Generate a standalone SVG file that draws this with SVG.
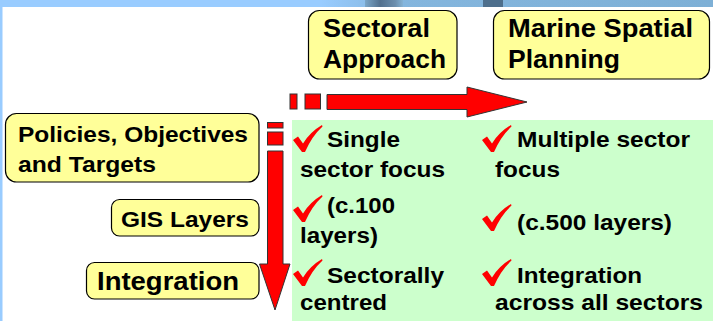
<svg xmlns="http://www.w3.org/2000/svg" xmlns:xlink="http://www.w3.org/1999/xlink" width="713" height="321" viewBox="0 0 713 321">
<defs>
<style>
.box{fill:#FFFF99;stroke:#000;stroke-width:1.2}
.t{font-family:"Liberation Sans",Arial,sans-serif;font-weight:bold;fill:#000}
.s22{font-size:22px}
.s25{font-size:25px}
.arr{fill:#FF0000;stroke:#333;stroke-width:1}
.chk{fill:#FF0000}
</style>
<linearGradient id="band" x1="0" y1="0" x2="1" y2="0">
<stop offset="0" stop-color="#99CCFF"/>
<stop offset="0.45" stop-color="#99CCFF"/>
<stop offset="0.55" stop-color="#84B6DE"/>
<stop offset="1" stop-color="#7EB0D6"/>
</linearGradient>
<linearGradient id="dark1" x1="0" y1="0" x2="1" y2="0">
<stop offset="0" stop-color="#7AA6C8"/>
<stop offset="0.4" stop-color="#52708E"/>
<stop offset="0.8" stop-color="#6C8FAE"/>
<stop offset="1" stop-color="#84B2D4"/>
</linearGradient>
<path id="check" d="M0,15 L5,11.5 L10,18.5 Q17,7 29,0 L29.5,1.5 Q19,11 12,27 L9,27 Z"/>
</defs>
<rect x="0" y="0" width="713" height="321" fill="#FFFFFF"/>
<rect x="0" y="0" width="713" height="7" fill="url(#band)"/>
<rect x="365" y="0" width="38" height="7" fill="url(#dark1)"/>
<rect x="483" y="0" width="20" height="7" fill="#4E6F8C"/>
<rect x="0" y="0" width="2.5" height="321" fill="#99CCFF"/>
<rect x="292" y="120" width="421" height="201" fill="#CCFFCC"/>

<g id="connectors">
<rect class="arr" x="290" y="94" width="7" height="15"/>
<rect class="arr" x="305" y="94" width="15.5" height="15"/>
<polygon class="arr" points="327,94.5 467,94.5 467,87 527,102 467,117 467,109.5 327,109.5"/>
<rect class="arr" x="267.5" y="122.5" width="15.5" height="5.5"/>
<rect class="arr" x="267.5" y="132" width="15.5" height="13"/>
<polygon class="arr" points="267.5,151 283,151 283,264 290,264 275,310 259.5,264 267.5,264"/>
</g>

<g id="sectoral">
<rect class="box" x="308.5" y="10.5" width="148.5" height="68.5" rx="11"/>
<text class="t s25" x="323" y="37" textLength="107" lengthAdjust="spacingAndGlyphs">Sectoral</text>
<text class="t s25" x="323" y="68" textLength="123" lengthAdjust="spacingAndGlyphs">Approach</text>
</g>
<g id="msp">
<rect class="box" x="493.5" y="10.5" width="216" height="68.5" rx="11"/>
<text class="t s25" x="508" y="37" textLength="185" lengthAdjust="spacingAndGlyphs">Marine Spatial</text>
<text class="t s25" x="508" y="68" textLength="112" lengthAdjust="spacingAndGlyphs">Planning</text>
</g>
<g id="policies">
<rect class="box" x="5.5" y="113.5" width="253.5" height="68.5" rx="11"/>
<text class="t s22" x="18" y="142" textLength="230" lengthAdjust="spacingAndGlyphs">Policies, Objectives</text>
<text class="t s22" x="18" y="172" textLength="138" lengthAdjust="spacingAndGlyphs">and Targets</text>
</g>
<g id="gis">
<rect class="box" x="111.5" y="199.5" width="147.5" height="36.5" rx="8"/>
<text class="t s22" x="121" y="227" textLength="128" lengthAdjust="spacingAndGlyphs">GIS Layers</text>
</g>
<g id="integration">
<rect class="box" x="86.5" y="262.5" width="172.5" height="36.5" rx="8"/>
<text class="t s25" x="97" y="290" textLength="142" lengthAdjust="spacingAndGlyphs">Integration</text>
</g>

<g id="sectoral-items">
<use xlink:href="#check" href="#check" class="chk" x="293" y="125"/>
<text class="t s22" x="327" y="147" textLength="73" lengthAdjust="spacingAndGlyphs">Single</text>
<text class="t s22" x="300" y="177" textLength="145" lengthAdjust="spacingAndGlyphs">sector focus</text>
<use xlink:href="#check" href="#check" class="chk" x="293" y="195"/>
<text class="t s22" x="327" y="213" textLength="68" lengthAdjust="spacingAndGlyphs">(c.100</text>
<text class="t s22" x="300" y="243" textLength="78" lengthAdjust="spacingAndGlyphs">layers)</text>
<use xlink:href="#check" href="#check" class="chk" x="293" y="259"/>
<text class="t s22" x="327" y="283" textLength="117" lengthAdjust="spacingAndGlyphs">Sectorally</text>
<text class="t s22" x="300" y="310" textLength="87" lengthAdjust="spacingAndGlyphs">centred</text>
</g>
<g id="msp-items">
<use xlink:href="#check" href="#check" class="chk" x="482" y="125"/>
<text class="t s22" x="517" y="147" textLength="173" lengthAdjust="spacingAndGlyphs">Multiple sector</text>
<text class="t s22" x="495" y="177" textLength="65" lengthAdjust="spacingAndGlyphs">focus</text>
<use xlink:href="#check" href="#check" class="chk" x="482" y="204"/>
<text class="t s22" x="517" y="230" textLength="155" lengthAdjust="spacingAndGlyphs">(c.500 layers)</text>
<use xlink:href="#check" href="#check" class="chk" x="482" y="259"/>
<text class="t s22" x="517" y="283" textLength="125" lengthAdjust="spacingAndGlyphs">Integration</text>
<text class="t s22" x="495" y="310" textLength="208" lengthAdjust="spacingAndGlyphs">across all sectors</text>
</g>
</svg>
